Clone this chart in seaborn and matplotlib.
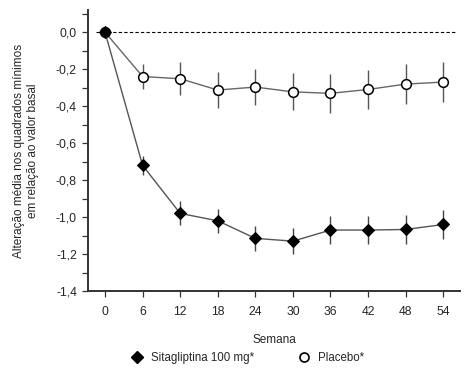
import matplotlib
matplotlib.use("Agg")
import matplotlib.pyplot as plt
from matplotlib.lines import Line2D
from matplotlib.ticker import MultipleLocator, FuncFormatter
import seaborn as sns
import pandas as pd
import numpy as np

weeks = [0, 6, 12, 18, 24, 30, 36, 42, 48, 54]
sita = [0.0, -0.72, -0.98, -1.02, -1.115, -1.13, -1.07, -1.07, -1.067, -1.04]
sita_err = [0.0, 0.05, 0.065, 0.065, 0.066, 0.072, 0.077, 0.077, 0.077, 0.08]
placebo = [0.0, -0.24, -0.252, -0.313, -0.297, -0.323, -0.331, -0.31, -0.281, -0.27]
placebo_err = [0.0, 0.07, 0.09, 0.095, 0.095, 0.10, 0.106, 0.106, 0.109, 0.11]
series_names = ["Sitagliptina 100 mg*", "Placebo*"]
y_ticks = [0.0, -0.2, -0.4, -0.6, -0.8, -1.0, -1.2, -1.4]

sns.set_style("ticks")
plt.rcParams['font.family'] = ['Liberation Sans', 'DejaVu Sans']

fig = plt.figure(figsize=(4.71, 3.82), dpi=100)
ax = fig.add_axes([0.187, 0.238, 0.79, 0.736])

df = pd.DataFrame({
    "Semana": weeks * 2,
    "val": placebo + sita,
    "err": placebo_err + sita_err,
    "grupo": [series_names[1]] * len(weeks) + [series_names[0]] * len(weeks),
})

ax.axhline(0, xmin=0.02, xmax=0.99, color="black", lw=0.8, ls=(0, (3, 2)), zorder=1)

# error bars
for name, col in [(series_names[1], "#555555"), (series_names[0], "#444444")]:
    d = df[df.grupo == name]
    ax.errorbar(d.Semana, d.val, yerr=d.err, fmt="none", ecolor=col, elinewidth=1.0, capsize=0, zorder=2)

pl = df[df.grupo == series_names[1]]
st = df[df.grupo == series_names[0]]
sns.lineplot(data=pl, x="Semana", y="val", ax=ax, color="#666666", lw=1.0, marker="o",
             markersize=7, markerfacecolor="white", markeredgecolor="black", markeredgewidth=1.1, zorder=3)
sns.lineplot(data=st, x="Semana", y="val", ax=ax, color="#555555", lw=1.0, marker="D",
             markersize=6.5, markerfacecolor="black", markeredgecolor="black", zorder=4)

ax.set_xlim(-2.7, 56.7)
ax.set_ylim(-1.4, 0.12)
ax.set_xticks(weeks)
ax.set_yticks(y_ticks)
ax.yaxis.set_minor_locator(MultipleLocator(0.1))
ax.yaxis.set_major_formatter(FuncFormatter(lambda v, p: f"{v:.1f}".replace(".", ",")))
ax.tick_params(axis="both", labelsize=8.7, length=4, width=0.9, direction="out", color="#333333")
ax.tick_params(axis="y", which="minor", length=4, width=0.9, color="#333333")
ax.tick_params(axis="y", pad=4)
ax.tick_params(axis="x", pad=7)
for s in ["top", "right"]:
    ax.spines[s].set_visible(False)
for s in ["left", "bottom"]:
    ax.spines[s].set_linewidth(1.4)
    ax.spines[s].set_color("#333333")
ax.spines["left"].set_bounds(-1.4, 0.12)

ax.set_xlabel("Semana", fontsize=8.5, labelpad=11)
ax.set_ylabel("Alteração média nos quadrados mínimos\nem relação ao valor basal", fontsize=8.5, labelpad=12)

handles = [
    Line2D([], [], ls="none", marker="D", markersize=6, markerfacecolor="black", markeredgecolor="black"),
    Line2D([], [], ls="none", marker="o", markersize=6.5, markerfacecolor="white", markeredgecolor="black",
           markeredgewidth=1.2),
]
fig.legend(handles, series_names, loc="center", bbox_to_anchor=(0.525, 0.063), ncol=2, frameon=False,
           fontsize=8.3, columnspacing=3.7, handletextpad=0.6, handlelength=1.2)

fig.savefig("out.png", dpi=100)
